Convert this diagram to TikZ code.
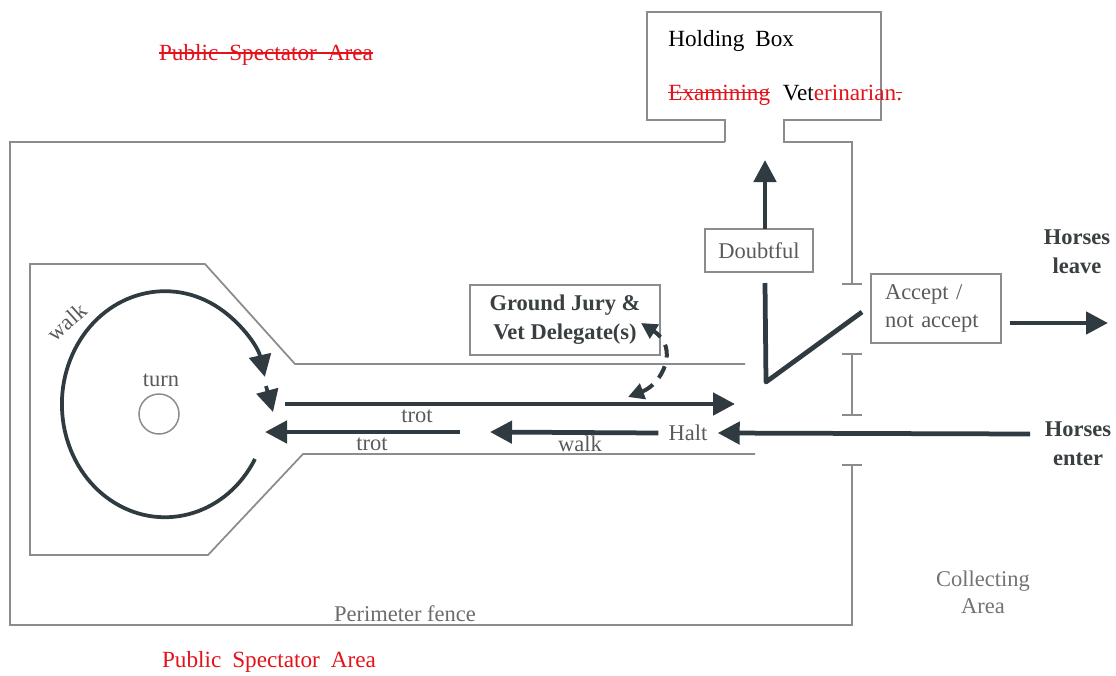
\documentclass[tikz,border=0pt]{standalone}
\usepackage{fontspec}
\setmainfont{Liberation Serif}
\newfontfamily\widefont[WordSpace=1.9]{Liberation Serif}
\usetikzlibrary{arrows.meta}
\newcommand\mystrike[1]{\setbox0=\hbox{#1}\rlap{\copy0}\rule[0.3em]{\wd0}{0.06em}}
\definecolor{fence}{HTML}{8C8C8C}
\definecolor{arr}{HTML}{2F3B40}
\definecolor{lbl}{HTML}{5A5A5A}
\definecolor{dark}{HTML}{3A3F42}
\definecolor{redt}{HTML}{E3121B}
\begin{document}
\begin{tikzpicture}[x=0.2mm,y=-0.2mm,
  fenceline/.style={draw=fence, line width=0.35mm, line join=miter},
  flow/.style={draw=arr, line width=0.95mm, -{Triangle[length=4.4mm,width=4.4mm]}},
  thickline/.style={draw=arr, line width=0.95mm, line join=round},
  dashflow/.style={draw=arr, line width=0.8mm, dash pattern=on 2.6mm off 1.8mm,
     {Triangle[length=3.2mm,width=3.2mm]}-{Triangle[length=3.2mm,width=3.2mm]}},
  txt/.style={font=\fontsize{12.8}{15}\selectfont, text=lbl, inner sep=0pt},
  bold/.style={font=\fontsize{12.8}{16.5}\selectfont\bfseries, text=dark, inner sep=0pt, align=center},
  boxst/.style={draw=fence, line width=0.35mm, font=\fontsize{12.8}{16}\selectfont, text=lbl},
  redlbl/.style={font=\fontsize{13.2}{16}\selectfont\widefont, text=redt, inner sep=0pt}
]
\useasboundingbox (0,0) rectangle (1116,675);

% perimeter fence and holding box
\draw[fenceline] (725,142) -- (10,142) -- (10,625) -- (852,625) -- (852,465);
\draw[fenceline] (842,465) -- (862,465);
\draw[fenceline] (725,142) -- (725,120) -- (647,120) -- (647,12) -- (881,12) -- (881,120)
   -- (784,120) -- (784,142) -- (852,142) -- (852,284);
\draw[fenceline] (842,284) -- (862,284);
\draw[fenceline] (852,354) -- (852,415);
\draw[fenceline] (842,354) -- (862,354);
\draw[fenceline] (842,415) -- (862,415);

% inner lane
\draw[fenceline] (745,364) -- (295,364) -- (205,264) -- (30,264) -- (30,555) -- (208,555)
   -- (303,454) -- (755,454);

% texts
\node[redlbl] (pubtop) at (266,55) {\mystrike{Public Spectator Area}};
\node[redlbl] (pubbot) at (269,662) {Public Spectator Area};
\node[font=\fontsize{13.2}{16}\selectfont\widefont, inner sep=0pt, anchor=base west] (hold) at (668,47) {Holding Box};
\node[font=\fontsize{13.2}{16}\selectfont\widefont, inner sep=0pt, anchor=base west] (vet) at (668,100)
   {\textcolor{redt}{\mystrike{Examining}}\hspace{0.55em}Vet\textcolor{redt}{erinarian\mystrike{.}}};
\node[txt, text=lbl!90] (perim) at (405,614) {Perimeter fence};
\node[txt, text=lbl!85, align=center, font=\fontsize{12.8}{15.4}\selectfont] (coll) at (983,592) {Collecting\\Area};

% turn circle and walk circle
\node[circle, draw=fence, line width=0.3mm, minimum size=8mm, inner sep=0pt] (turn) at (159,414) {};
\node[txt] (turnl) at (161,380) {turn};
\node[txt, rotate=42] (walkl) at (67,322) {walk};
\coordinate (ws) at (255,459);
\draw[flow, line width=0.75mm] (ws) arc[start angle=29, end angle=346, x radius=103, y radius=113];
\coordinate (w2s) at (266,386);
\coordinate (w2e) at (273,412);
\draw[flow, line width=0.75mm] (w2s) -- (w2e);

% trot / walk arrows
\coordinate (t1s) at (285,404);
\coordinate (t1e) at (735,404);
\draw[flow] (t1s) -- (t1e);
\node[txt] (trot1) at (417,416) {trot};
\coordinate (t2s) at (460,432);
\coordinate (t2e) at (265,432);
\draw[flow] (t2s) -- (t2e);
\node[txt] (trot2) at (372,444) {trot};
\node[txt, inner xsep=2mm] (halt) at (688,433) {Halt};
\coordinate (wke) at (490,432);
\draw[flow] (halt.west) -- (wke);
\node[txt] (walk2) at (580,444) {walk};

% horses enter
\node[bold] (henter) at (1078,444) {Horses\\enter};
\coordinate (hes) at (1030,434);
\draw[flow] (hes) -- (halt.east);

% accept box
\node[boxst, text width=20.4mm, inner xsep=2.8mm, minimum height=13.8mm, align=left] (acc) at (936,308.5) {Accept /\\not accept};
\coordinate (hls) at (1010,323);
\coordinate (hle) at (1108,323);
\draw[flow] (hls) -- (hle);
\node[bold] (hleave) at (1077,252) {Horses\\leave};

% V-shape
\coordinate (v1) at (765,283);
\coordinate (v2) at (766,382);
\coordinate (v3) at (862,312);
\draw[thickline] (v1) -- (v2) -- (v3);

% doubtful
\node[boxst, minimum width=21.6mm, minimum height=8.6mm, inner sep=0pt] (doubt) at (759,250.5) {Doubtful};
\coordinate (ds) at (765,229);
\coordinate (de) at (765,160);
\draw[flow] (ds) -- (de);

% ground jury
\node[boxst, minimum width=38mm, minimum height=14mm, font=\fontsize{12.8}{16.5}\selectfont\bfseries, text=dark, align=center] (gj) at (565,320) {Ground Jury \&\\Vet Delegate(s)};
\coordinate (da) at (628,397);
\coordinate (db) at (641,323);
\draw[dashflow] (da) .. controls (662,384) and (680,348) .. (db);
\end{tikzpicture}
\end{document}
